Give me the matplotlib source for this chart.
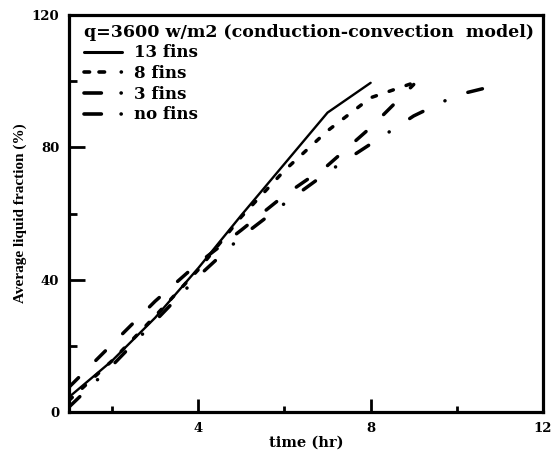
import matplotlib
matplotlib.use("Agg")
import matplotlib.pyplot as plt
from matplotlib.lines import Line2D
from matplotlib.ticker import MultipleLocator

# ---- data ----
t_13 = [1, 2, 3, 4, 5, 6, 7, 8]
y_13 = [4.5, 15.5, 28.5, 43.5, 59.5, 75, 90.5, 99.5]

t_8 = [1, 2, 3, 4, 5, 6, 7, 8, 9]
y_8 = [3.5, 15.5, 29, 43, 59, 73, 85, 95, 99.5]

t_3 = [1, 2, 3, 4, 5, 6, 7, 8, 9]
y_3 = [7.5, 20.5, 33.5, 45, 55, 65.5, 74.5, 86, 99]

t_0 = [1, 2, 3, 4, 5, 6, 7, 8, 9, 10, 11]
y_0 = [1.5, 14, 27.5, 41, 53, 63, 72.5, 81, 89.5, 95.8, 99]

labels = ["13 fins", "8 fins", "3 fins", "no fins"]
legend_title = "q=3600 w/m2 (conduction-convection  model)"
x_major = [4, 8, 12]
y_major = [0, 40, 80, 120]

plt.rcParams['lines.scale_dashes'] = False
HFONT = ['DejaVu Serif']
VFONT = ['Liberation Serif', 'DejaVu Serif']

fig = plt.figure(figsize=(5.57, 4.54), dpi=100)
ax = fig.add_axes([69/557, 1-412/454, (543-69)/557, (412-15)/454])

ax.plot(t_13, y_13, color='black', lw=1.7, solid_capstyle='round')
ax.plot(t_8, y_8, color='black', lw=2.5, dash_capstyle='round',
        linestyle=(0, (3.2, 9.7)))
ax.plot(t_3, y_3, color='black', lw=2.5, dash_capstyle='round',
        linestyle=(0, (9.7, 17.6)))
ax.plot(t_0, y_0, color='black', lw=2.5, dash_capstyle='round',
        linestyle=(0, (10.8, 17.6, 0.1, 17.6)))

ax.set_xlim(1, 12)
ax.set_ylim(0, 120)
ax.set_xticks(x_major)
ax.set_yticks(y_major)
ax.xaxis.set_minor_locator(MultipleLocator(2))
ax.yaxis.set_minor_locator(MultipleLocator(20))

for s in ax.spines.values():
    s.set_linewidth(2.3)

ax.tick_params(axis='x', which='major', direction='in', length=9.4, width=2, pad=7)
ax.tick_params(axis='x', which='minor', direction='in', length=4.3, width=2)
ax.tick_params(axis='y', which='major', direction='in', length=11.5, width=2, pad=7)
ax.tick_params(axis='y', which='minor', direction='in', length=5.8, width=2)

for lab in ax.get_xticklabels() + ax.get_yticklabels():
    lab.set_family(HFONT)
    lab.set_fontweight('bold')
    lab.set_fontsize(9.5)

ax.set_xlabel("time (hr)", family=HFONT, fontweight='bold', fontsize=10.5, labelpad=1)
ax.set_ylabel("Average liquid fraction (%)", family=VFONT, fontweight='bold',
              fontsize=11, labelpad=3)

# legend proxies
handles = [
    Line2D([], [], color='black', lw=2.2, solid_capstyle='round'),
    Line2D([], [], color='black', lw=2.6, dash_capstyle='round',
           linestyle=(0, (4, 6.8, 4, 12, 0.1, 10))),
    Line2D([], [], color='black', lw=2.6, dash_capstyle='round',
           linestyle=(0, (12.5, 14.2, 0.1, 10))),
    Line2D([], [], color='black', lw=2.6, dash_capstyle='round',
           linestyle=(0, (12.5, 14.2, 0.1, 10))),
]
fs = 12
leg = ax.legend(handles, labels, title=legend_title, loc='upper left',
                bbox_to_anchor=(0.032, 0.978), frameon=False,
                prop={'family': HFONT, 'weight': 'bold', 'size': fs},
                title_fontproperties={'family': HFONT, 'weight': 'bold', 'size': 12.5},
                handlelength=27/fs, handletextpad=9.2/fs, labelspacing=0.22,
                borderpad=0, borderaxespad=0, alignment='left')

fig.savefig("out.png", dpi=100)
